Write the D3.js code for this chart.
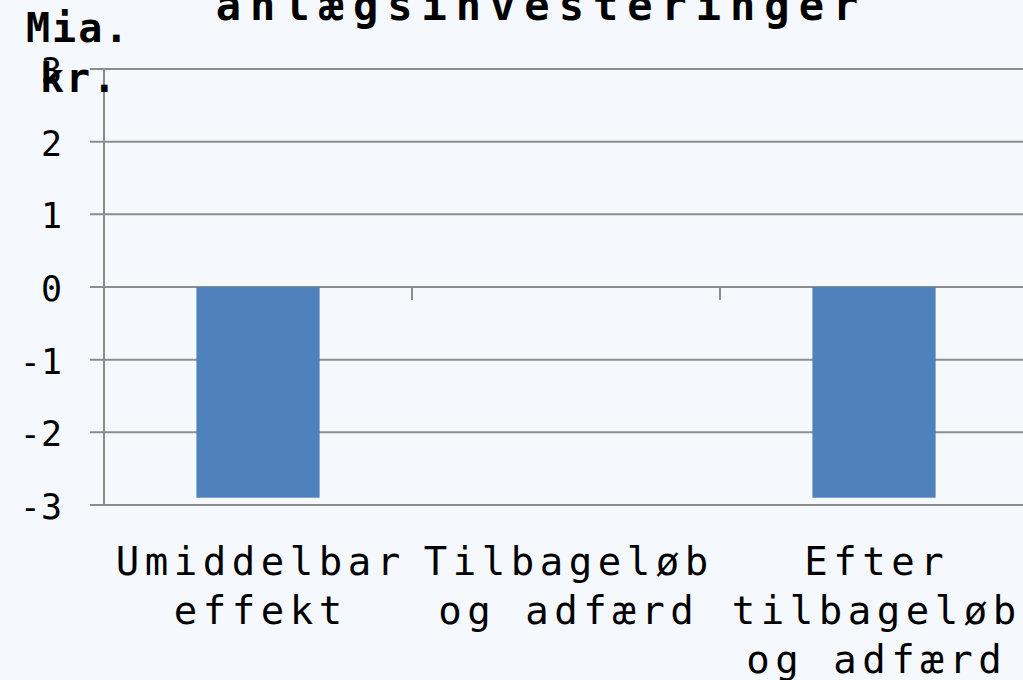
<!DOCTYPE html>
<html>
<head>
<meta charset="utf-8">
<script src="https://cdn.jsdelivr.net/npm/d3@7"></script>
<style>
  body { margin: 0; background: #f5f9fe; }
  svg { display: block; }
  text { font-family: "DejaVu Sans Mono", monospace; fill: #000; }
</style>
</head>
<body>
<div id="chart"></div>
<script>
var categories = [["Umiddelbar", "effekt"], ["Tilbageløb", "og adfærd"], ["Efter", "tilbageløb", "og adfærd"]];
var values = [-2.9, 0, -2.9];
var yTicks = [3, 2, 1, 0, -1, -2, -3];
var title = "anlægsinvesteringer";
var unitLabel = ["Mia.", "kr."];

var width = 1023, height = 680;
var margin = {top: 69, right: -5, bottom: 175, left: 104};

var svg = d3.select("#chart").append("svg")
    .attr("width", width)
    .attr("height", height);

svg.append("rect")
    .attr("width", width)
    .attr("height", height)
    .attr("fill", "#f5f9fe");

// Scales
var x = d3.scaleBand()
    .domain(d3.range(values.length))
    .range([margin.left, width - margin.right])
    .paddingInner(0.6)
    .paddingOuter(0.3);

var y = d3.scaleLinear()
    .domain([-3, 3])
    .range([height - margin.bottom, margin.top]);

// gridlines
svg.append("g")
    .selectAll("line")
    .data(yTicks)
    .join("line")
    .attr("x1", margin.left - 14)
    .attr("x2", width)
    .attr("y1", function(d) { return y(d); })
    .attr("y2", function(d) { return y(d); })
    .attr("stroke", "#8c8c8c")
    .attr("stroke-width", 2);

// y axis line
svg.append("line")
    .attr("x1", margin.left)
    .attr("x2", margin.left)
    .attr("y1", y(3))
    .attr("y2", y(-3))
    .attr("stroke", "#8c8c8c")
    .attr("stroke-width", 2);

// bars
svg.append("g")
    .selectAll("rect")
    .data(values)
    .join("rect")
    .attr("x", function(d, i) { return x(i); })
    .attr("width", x.bandwidth())
    .attr("y", function(d) { return y(Math.max(0, d)); })
    .attr("height", function(d) { return Math.abs(y(d) - y(0)); })
    .attr("fill", "#4f81bd");

// category ticks on zero line
var step = x.step();
svg.append("g")
    .selectAll("line")
    .data(d3.range(1, values.length))
    .join("line")
    .attr("x1", function(d) { return x(d) - step * x.paddingInner() / 2; })
    .attr("x2", function(d) { return x(d) - step * x.paddingInner() / 2; })
    .attr("y1", y(0))
    .attr("y2", y(0) + 13)
    .attr("stroke", "#8c8c8c")
    .attr("stroke-width", 2);

// y tick labels
svg.append("g")
    .selectAll("text")
    .data(yTicks)
    .join("text")
    .attr("x", 62)
    .attr("y", function(d) { return y(d) + 14; })
    .attr("text-anchor", "end")
    .style("font-size", "35px")
    .text(function(d) { return d < 0 ? "-" + Math.abs(d) : d; });

// category labels
var lsCat = 5.5;
categories.forEach(function(lines, i) {
    var cx = x(i) + x.bandwidth() / 2 + lsCat / 2;
    lines.forEach(function(t, j) {
        svg.append("text")
            .attr("x", cx)
            .attr("y", 575 + j * 49)
            .attr("text-anchor", "middle")
            .style("font-size", "39px")
            .style("letter-spacing", lsCat + "px")
            .text(t);
    });
});

// unit label
svg.append("text")
    .attr("x", 26)
    .attr("y", 42)
    .style("font-size", "40px")
    .style("font-weight", "bold")
    .style("letter-spacing", "2px")
    .text(unitLabel[0]);
svg.append("text")
    .attr("x", 40)
    .attr("y", 92)
    .style("font-size", "40px")
    .style("font-weight", "bold")
    .style("letter-spacing", "2px")
    .text(unitLabel[1]);

// title
svg.append("text")
    .attr("x", 537 + 4.5)
    .attr("y", 20)
    .attr("text-anchor", "middle")
    .style("font-size", "42px")
    .style("font-weight", "bold")
    .style("letter-spacing", "9px")
    .text(title);
</script>
</body>
</html>
